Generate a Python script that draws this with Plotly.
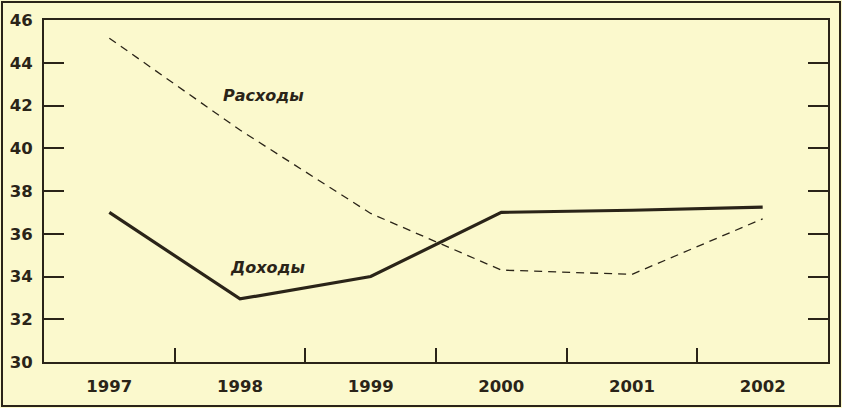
import plotly.graph_objects as go

years = ["1997", "1998", "1999", "2000", "2001", "2002"]
dohody = [37.0, 32.95, 34.0, 37.0, 37.1, 37.25]
rashody = [45.15, 40.85, 36.95, 34.3, 34.1, 36.7]
y_ticks = [30, 32, 34, 36, 38, 40, 42, 44, 46]

ink = "#2a2418"
bg = "#fbf9cd"

W, H = 842, 408
L, R, T, B = 44, 14, 20, 46
pw, ph = W - L - R, H - T - B

tick_font = dict(family="DejaVu Sans", size=16.5, color=ink, weight="bold")
lab_font = dict(family="DejaVu Sans", size=16, color=ink, weight="bold", style="italic")

fig = go.Figure()
fig.add_trace(go.Scatter(x=years, y=rashody, mode="lines",
                         line=dict(color=ink, width=1.3, dash="8px,6px"),
                         showlegend=False, hoverinfo="skip"))
fig.add_trace(go.Scatter(x=years, y=dohody, mode="lines",
                         line=dict(color=ink, width=3.2),
                         showlegend=False, hoverinfo="skip"))

fig.add_annotation(x=1.18, y=42.45, xref="x", yref="y", text="Расходы",
                   showarrow=False, font=lab_font)
fig.add_annotation(x=1.21, y=34.4, xref="x", yref="y", text="Доходы",
                   showarrow=False, font=lab_font)

def px_x(p):
    return (p - L) / pw

def px_y(p):
    return (H - B - p) / ph

fig.add_shape(type="rect", xref="paper", yref="paper",
              x0=px_x(2), x1=px_x(840), y0=px_y(406), y1=px_y(2),
              line=dict(color=ink, width=2), layer="below")

fig.update_layout(
    width=W, height=H,
    margin=dict(l=L, r=R, t=T, b=B, autoexpand=False),
    paper_bgcolor=bg, plot_bgcolor=bg,
    font=dict(family="DejaVu Sans", size=16, color=ink),
    xaxis=dict(type="category", range=[-0.5, 5.5], showgrid=False, zeroline=False,
               showline=True, linecolor=ink, linewidth=2, mirror=True,
               ticks="inside", tickson="boundaries", ticklen=14, tickwidth=1.5,
               tickcolor=ink, tickfont=tick_font, automargin=False,
               ticklabelstandoff=8),
    yaxis=dict(range=[30, 46], tickvals=y_ticks, showgrid=False, zeroline=False,
               showline=True, linecolor=ink, linewidth=2, mirror="ticks",
               ticks="inside", ticklen=20, tickwidth=1.5, tickcolor=ink,
               tickfont=tick_font, automargin=False,
               ticklabelstandoff=6),
)

fig.write_html("out.html", config={"displayModeBar": False},
               post_script="document.body.style.margin='0';")
